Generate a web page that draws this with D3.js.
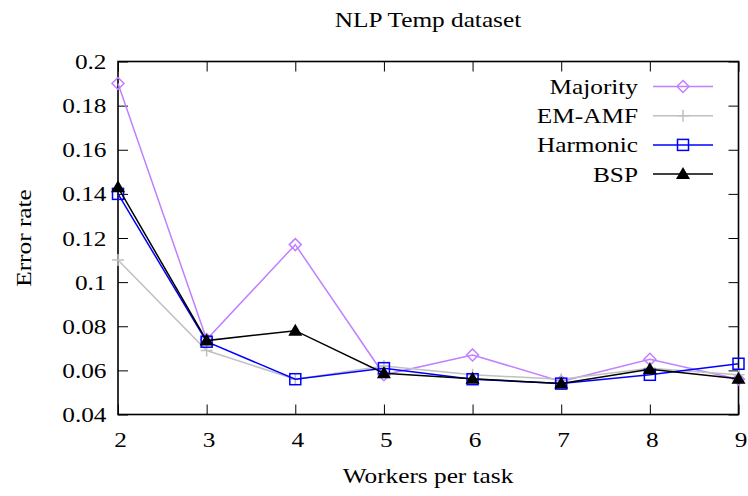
<!DOCTYPE html>
<html><head><meta charset="utf-8">
<script src="https://cdn.jsdelivr.net/npm/d3@7"></script>
<style>body{margin:0;background:#fff}svg{display:block}</style>
</head><body>
<script>
const workers = [2,3,4,5,6,7,8,9];
const majority = [0.190,0.074,0.117,0.058,0.067,0.055,0.065,0.056];
const emamf    = [0.110,0.069,0.056,0.062,0.058,0.056,0.061,0.058];
const harmonic = [0.140,0.073,0.056,0.061,0.056,0.054,0.058,0.063];
const bsp      = [0.143,0.0735,0.078,0.0587,0.0562,0.054,0.0605,0.0562];
const yTicks = [0.04,0.06,0.08,0.1,0.12,0.14,0.16,0.18,0.2];
const seriesNames = ["Majority","EM-AMF","Harmonic","BSP"];

const FONT = "'Liberation Serif', 'Times New Roman', Times, serif";
const FS = 22, SX = 1.15;
const W=748,H=496, L=118,R=738.5,T=61.5,B=414.5;
const svg=d3.select("body").append("svg").attr("width",W).attr("height",H);
const x=d3.scaleLinear().domain([2,9]).range([L,R]);
const y=d3.scaleLinear().domain([0.04,0.2]).range([B,T]);

const series=[
 {name:seriesNames[0],vals:majority,color:"#c080ff",marker:"diamond"},
 {name:seriesNames[1],vals:emamf,color:"#c0c0c0",marker:"plus"},
 {name:seriesNames[2],vals:harmonic,color:"#0000ff",marker:"square"},
 {name:seriesNames[3],vals:bsp,color:"#000000",marker:"triangle"}
];

const tl=10;
function styleText(g){g.attr("font-family",FONT).attr("font-size",FS);g.selectAll("text").style("font-family",FONT).style("font-size",FS+"px").attr("fill","#000").attr("transform",`scale(${SX},1)`);}
svg.append("g").attr("transform",`translate(${L},0)`).call(d3.axisLeft(y).tickValues(yTicks).tickSizeInner(-tl).tickSizeOuter(0).tickPadding(10).tickFormat(d=>String(+d.toFixed(2))))
  .call(g=>{g.select(".domain").remove();styleText(g);});
svg.append("g").attr("transform",`translate(${R},0)`).call(d3.axisRight(y).tickValues(yTicks).tickSizeInner(-tl).tickSizeOuter(0).tickFormat(""))
  .call(g=>g.select(".domain").remove());
svg.append("g").attr("transform",`translate(0,${B})`).call(d3.axisBottom(x).tickValues(workers).tickSizeInner(-tl).tickSizeOuter(0).tickPadding(17).tickFormat(d3.format("d")))
  .call(g=>{g.select(".domain").remove();styleText(g);g.selectAll("text").attr("x",1.7);});
svg.append("g").attr("transform",`translate(0,${T})`).call(d3.axisTop(x).tickValues(workers).tickSizeInner(-tl).tickSizeOuter(0).tickFormat(""))
  .call(g=>g.select(".domain").remove());
svg.selectAll(".tick line").attr("stroke","#000").attr("stroke-width",1);
svg.append("rect").attr("x",L).attr("y",T).attr("width",R-L).attr("height",B-T).attr("fill","none").attr("stroke","#000").attr("stroke-width",1.6);

function drawMarker(g,type,color,cx,cy){
  if(type==="diamond") g.append("path").attr("d",`M${cx},${cy-6}L${cx+6},${cy}L${cx},${cy+6}L${cx-6},${cy}Z`).attr("fill","none").attr("stroke",color).attr("stroke-width",1.5);
  else if(type==="plus") g.append("path").attr("d",`M${cx-6},${cy}H${cx+6}M${cx},${cy-6}V${cy+6}`).attr("stroke",color).attr("stroke-width",1.5);
  else if(type==="square") g.append("rect").attr("x",cx-5.5).attr("y",cy-5.5).attr("width",11).attr("height",11).attr("fill","none").attr("stroke",color).attr("stroke-width",1.5);
  else if(type==="triangle") g.append("path").attr("d",`M${cx},${cy-7}L${cx+7},${cy+5}L${cx-7},${cy+5}Z`).attr("fill",color);
}
const line=d3.line().x((d,i)=>x(workers[i])).y(d=>y(d));
series.forEach(s=>{
  const g=svg.append("g");
  g.append("path").attr("d",line(s.vals)).attr("fill","none").attr("stroke",s.color).attr("stroke-width",1.5);
  s.vals.forEach((v,i)=>drawMarker(g,s.marker,s.color,x(workers[i]),y(v)));
});

function label(tx,ty,rot,anchor,str){
  svg.append("text").attr("transform",`translate(${tx},${ty}) rotate(${rot}) scale(${SX},1)`)
    .attr("text-anchor",anchor).style("font-family",FONT).style("font-size",FS+"px").attr("fill","#000").text(str);
}
series.forEach((s,i)=>{
  const ly=86.5+i*29.2;
  label(638,ly+7.5,0,"end",s.name);
  const g=svg.append("g");
  g.append("line").attr("x1",653).attr("x2",713).attr("y1",ly).attr("y2",ly).attr("stroke",s.color).attr("stroke-width",1.5);
  drawMarker(g,s.marker,s.color,683,ly);
});

label(428,27,0,"middle","NLP Temp dataset");
label(428,483,0,"middle","Workers per task");
label(31,238,-90,"middle","Error rate");
</script>
</body></html>
